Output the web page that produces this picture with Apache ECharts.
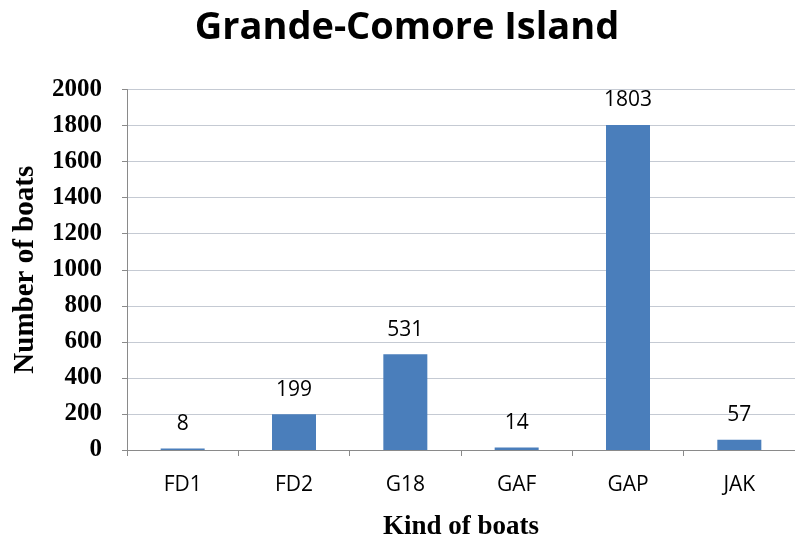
<!DOCTYPE html>
<html>
<head>
<meta charset="utf-8">
<script src="https://cdn.jsdelivr.net/npm/echarts@6/dist/echarts.min.js"></script>
<style>
  html, body { margin: 0; padding: 0; background: #fff; }
  #chart { width: 795px; height: 546px; }
</style>
</head>
<body>
<div id="chart"></div>
<script>
// Boat counts by type, Grande-Comore
const categories = ['FD1', 'FD2', 'G18', 'GAF', 'GAP', 'JAK'];
const boatCounts = [8, 199, 531, 14, 1803, 57];
const yTicks = { min: 0, max: 2000, interval: 200 };

const chart = echarts.init(document.getElementById('chart'), null, { renderer: 'canvas' });

chart.setOption({
  backgroundColor: '#ffffff',
  animation: false,
  title: {
    text: 'Grande-Comore Island',
    left: 402,
    textAlign: 'center',
    top: 4,
    textStyle: {
      fontFamily: 'Open Sans',
      fontWeight: 'bold',
      fontSize: 38,
      color: '#000000'
    }
  },
  grid: {
    left: 127,
    top: 89.5,
    width: 672,
    height: 367.5,
    containLabel: false
  },
  xAxis: {
    type: 'category',
    data: categories,
    name: 'Kind of boats',
    nameLocation: 'middle',
    nameGap: 64,
    nameTextStyle: {
      fontFamily: 'Liberation Serif',
      fontWeight: 'bold',
      fontSize: 27,
      color: '#000000'
    },
    axisLine: { show: true, lineStyle: { color: '#8a8a8a', width: 1 } },
    axisTick: { show: true, length: 6, alignWithLabel: false, lineStyle: { color: '#8a8a8a' } },
    axisLabel: {
      margin: 25,
      fontFamily: 'Open Sans',
      fontSize: 21,
      color: '#000000'
    },
    splitLine: { show: false }
  },
  yAxis: {
    type: 'value',
    min: yTicks.min,
    max: yTicks.max,
    interval: yTicks.interval,
    name: 'Number of boats',
    nameLocation: 'middle',
    nameGap: 87,
    nameRotate: 90,
    nameTextStyle: {
      fontFamily: 'Liberation Serif',
      fontWeight: 'bold',
      fontSize: 29,
      color: '#000000'
    },
    axisLine: { show: true, lineStyle: { color: '#8a8a8a', width: 1 } },
    axisTick: { show: true, length: 5, lineStyle: { color: '#8a8a8a' } },
    axisLabel: {
      margin: 25,
      fontFamily: 'Liberation Serif',
      fontWeight: 'bold',
      fontSize: 25,
      color: '#000000',
      formatter: (v) => String(v)
    },
    splitLine: { show: true, lineStyle: { color: '#c5cad3', width: 1 } }
  },
  series: [{
    type: 'bar',
    data: boatCounts,
    barWidth: 44,
    itemStyle: { color: '#4a7ebb' },
    label: {
      show: true,
      position: 'top',
      distance: 14,
      fontFamily: 'Open Sans',
      fontSize: 21,
      color: '#000000'
    }
  }]
});
</script>
</body>
</html>
